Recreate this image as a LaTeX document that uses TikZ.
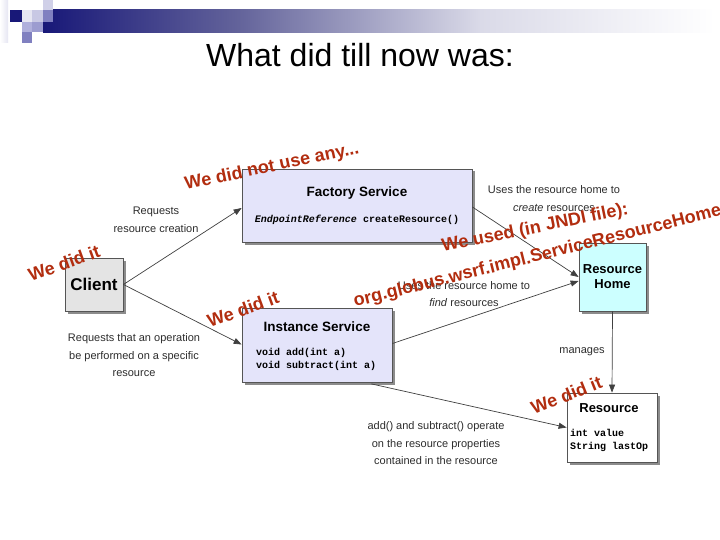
\documentclass[tikz,border=0pt]{standalone}
\usepackage{fontspec}
\setmainfont{Liberation Sans}
\setmonofont{Liberation Mono}
\usetikzlibrary{arrows.meta,shadows}
\definecolor{navy}{RGB}{24,24,120}
\definecolor{redann}{RGB}{178,45,15}
\definecolor{boxline}{RGB}{85,85,85}
\definecolor{lav}{RGB}{228,228,250}
\definecolor{cyanbox}{RGB}{204,255,255}
\definecolor{clientgray}{RGB}{228,228,228}
\definecolor{labelgray}{RGB}{45,45,45}
\definecolor{sqA}{RGB}{208,208,232}
\definecolor{sqB}{RGB}{230,230,242}
\definecolor{sqC}{RGB}{176,176,220}
\definecolor{sqD}{RGB}{128,128,192}
\definecolor{sqE}{RGB}{200,200,228}
\definecolor{sqF}{RGB}{156,156,208}
\definecolor{barA}{RGB}{100,100,155}
\definecolor{barB}{RGB}{218,218,232}
\begin{document}
\begin{tikzpicture}[x=1pt,y=-1pt,
  box/.style={draw=boxline, line width=0.8pt, inner sep=0pt,
    drop shadow={shadow xshift=2.5pt, shadow yshift=-2.5pt, fill=black!45, opacity=1}},
  ttl/.style={font=\fontsize{13.5}{16}\selectfont\bfseries, inner sep=0pt},
  code/.style={font=\fontsize{10}{12}\selectfont\ttfamily\bfseries, inner sep=0pt, anchor=west},
  lbl/.style={font=\fontsize{11}{17.5}\selectfont, text=labelgray, align=center, inner sep=0pt},
  conn/.style={draw=black!75, line width=0.7pt, -{Triangle[length=8pt,width=6pt]}},
  ann/.style={font=\fontsize{18}{20}\selectfont\bfseries, text=redann, inner sep=0pt, anchor=base west}
]
\useasboundingbox (0,0) rectangle (720,540);
\fill[white] (0,0) rectangle (720,540);
% top decoration
\fill[left color=white, right color=sqB] (0,0) rectangle (8,43);
\shade[left color=navy, right color=barA] (43,10) rectangle (240.5,33);
\shade[left color=barA, right color=barB] (240,10) rectangle (480.5,33);
\shade[left color=barB, right color=white] (480,10) rectangle (715,33);
\fill[sqA] (43,0) rectangle (53,10);
\fill[sqD] (43,10) rectangle (53,22);
\fill[sqB] (22,10) rectangle (32,22);
\fill[sqE] (32,10) rectangle (43,22);
\fill[navy] (10,10) rectangle (22,22);
\fill[sqC] (22,22) rectangle (32,32);
\fill[sqF] (32,22) rectangle (43,32);
\fill[sqD] (22,32) rectangle (32,43);
% title
\node[font=\fontsize{32}{36}\selectfont, anchor=base, inner sep=0pt] (title) at (360,67) {What did till now was:};
% boxes
\node[box, fill=lav, minimum width=230pt, minimum height=73pt] (fac) at (357,205.5) {};
\node[box, fill=clientgray, minimum width=58pt, minimum height=53pt] (cli) at (94,284.5) {};
\node[box, fill=lav, minimum width=150pt, minimum height=74pt] (inst) at (317,345) {};
\node[box, fill=cyanbox, minimum width=67pt, minimum height=68pt] (home) at (612.5,277) {};
\node[box, fill=white, minimum width=90pt, minimum height=69pt] (res) at (612,427.5) {};
% box texts
\node[ttl] (facT) at (357,193) {Factory Service};
\node[font=\fontsize{10}{12}\selectfont\ttfamily\bfseries, inner sep=0pt] (facM) at (357,220) {\textit{EndpointReference} createResource()};
\node[font=\fontsize{17}{20}\selectfont\bfseries, inner sep=0pt] (cliT) at (94,284) {Client};
\node[ttl] (instT) at (317,327) {Instance Service};
\node[code] (instA) at (256,353) {void add(int a)};
\node[code] (instB) at (256,366) {void subtract(int a)};
\node[ttl, align=center, font=\fontsize{13}{15}\selectfont\bfseries] (homeT) at (612.5,277) {Resource\\Home};
\node[ttl, font=\fontsize{13}{15}\selectfont\bfseries] (resT) at (609,408) {Resource};
\node[code] (resA) at (570,433) {int value};
\node[code] (resB) at (570,447) {String lastOp};
% connectors
\draw[conn] (cli.east) -- ([yshift=-2.5pt]fac.west);
\draw[conn] (cli.east) -- ([yshift=0.5pt]inst.west);
\draw[conn] ([yshift=-1.5pt]fac.east) -- ([yshift=0pt]home.west);
\draw[conn] ([yshift=1.5pt]inst.east) -- ([yshift=-4pt]home.west);
\draw[conn] (home.south) -- (res.north);
\draw[conn] ([xshift=-21pt,yshift=-1.5pt]inst.south east) -- (res.west);
% labels
\node[lbl] (l1) at (156,220) {Requests\\resource creation};
\node[lbl] (l2) at (134,355.5) {Requests that an operation\\be performed on a specific\\resource};
\node[lbl, font=\fontsize{11}{18}\selectfont] (l3) at (554,199) {Uses the resource home to\\\textit{create} resources};
\node[lbl, font=\fontsize{11}{17}\selectfont] (l4) at (464,294.5) {Uses the resource home to\\\textit{find} resources};
\node[lbl] (l5) at (582,352) {manages};
\node[lbl] (l6) at (436,443.5) {add() and subtract() operate\\on the resource properties\\contained in the resource};
% annotations
\node[ann, rotate=12] (a1) at (186,190) {We did not use any...};
\node[ann, rotate=20] (a2) at (31,282) {We did it};
\node[ann, rotate=20] (a3) at (210,328) {We did it};
\node[ann, rotate=22] (a4) at (534,415) {We did it};
\node[ann, rotate=11.5] (a5) at (443,252) {We used (in JNDI file):};
\node[ann, rotate=14] (a6) at (355,307) {org.globus.wsrf.impl.ServiceResourceHome};
\end{tikzpicture}
\end{document}
